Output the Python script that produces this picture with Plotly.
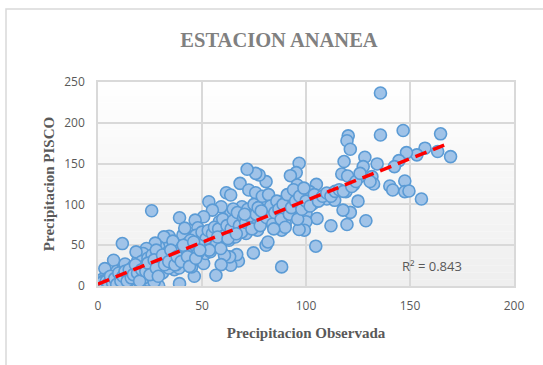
import numpy as np
import plotly.graph_objects as go

# Observed vs PISCO monthly precipitation (mm), Ananea station
obs = [
    135.8, 135.8, 146.7, 164.7, 120.3, 119.7, 121.3, 169.5, 157.2, 163.3,
    153.3, 148.3, 144.7, 142.5, 118.3, 128.3, 127.5, 134.2, 131.7, 132.5,
    130.8, 125.8, 117.2, 120.0, 140.3, 141.7, 147.5, 147.5, 149.5, 155.5,
    119.2, 122.8, 125.0, 121.3, 117.8, 119.7, 128.8, 112.0, 110.0, 113.8,
    105.0, 104.7, 88.3, 96.7, 95.3, 92.5, 95.8, 97.5, 101.7, 93.8,
    100.0, 100.8, 103.3, 105.3, 100.0, 99.2, 96.7, 95.5, 92.8, 90.0,
    89.2, 87.8, 88.3, 90.0, 85.8, 83.3, 80.8, 77.5, 75.8, 71.7,
    68.3, 72.5, 75.8, 80.0, 78.3, 80.8, 82.2, 80.8, 81.7, 74.7,
    76.7, 75.8, 77.5, 74.2, 69.2, 67.5, 70.0, 71.2, 67.5, 66.7,
    63.8, 63.3, 65.0, 63.8, 65.0, 61.7, 63.8, 59.2, 58.3, 59.2,
    60.8, 59.2, 56.7, 53.3, 55.0, 50.8, 46.7, 48.0, 45.8, 45.0,
    40.8, 39.2, 41.7, 50.8, 52.5, 54.2, 51.7, 46.3, 45.0, 45.5,
    39.2, 36.7, 38.3, 35.0, 32.5, 34.2, 31.7, 29.2, 29.2, 28.3,
    25.8, 27.5, 23.3, 21.7, 19.2, 18.3, 25.0, 24.2, 29.2, 20.0,
    15.8, 11.7, 10.0, 7.5, 3.3, 10.8, 13.8, 1.7, 0.0, 0.5,
    1.0, 1.5, 2.0, 2.0, 3.0, 4.0, 5.0, 5.0, 6.0, 7.0,
    8.0, 8.0, 9.0, 10.0, 11.0, 12.0, 12.0, 13.0, 14.0, 15.0,
    16.0, 17.0, 18.0, 19.0, 20.0, 21.0, 22.0, 22.0, 23.0, 24.0,
    25.0, 26.0, 27.0, 28.0, 26.0, 27.0, 30.0, 31.0, 32.0, 33.0,
    34.0, 35.0, 36.0, 36.0, 37.0, 38.0, 39.0, 40.0, 41.0, 42.0,
    43.0, 44.0, 45.0, 46.0, 47.0, 48.0, 49.0, 50.0, 51.0, 52.0,
    53.0, 54.0, 55.0, 56.0, 57.0, 58.0, 59.0, 60.0, 61.0, 62.0,
    63.0, 64.0, 65.0, 66.0, 67.0, 68.0, 69.0, 70.0, 71.0, 72.0,
    73.0, 74.0, 75.0, 76.0, 77.0, 78.0, 79.0, 80.0, 81.0, 82.0,
    83.0, 84.0, 85.0, 86.0, 87.0, 88.0, 89.0, 90.0, 91.0, 92.0,
    93.0, 94.0, 95.0, 96.0, 97.0, 98.0, 99.0, 100.0, 102.0, 104.0,
    106.0, 108.0, 110.0, 112.0, 114.0, 116.0, 118.0, 122.0, 124.0, 126.0,
    2.5, 4.5, 6.5, 9.5, 12.5, 14.5, 17.5, 30.5, 33.5, 37.5,
    42.5, 44.5, 48.5, 53.5, 57.5, 62.5, 66.5, 70.5, 78.5, 84.5,
    1.0, 2.0, 3.0, 4.0, 5.0, 6.0, 7.0, 8.0, 9.0, 10.0,
    11.0, 12.0, 13.0, 14.0, 15.0, 16.0, 17.0, 18.0, 19.0, 20.0,
    21.0, 23.0, 24.0, 25.0, 27.0, 28.0, 29.0, 31.0, 32.0, 34.0,
    35.0, 37.0, 38.0, 40.0, 41.0, 43.0, 44.0, 46.0, 47.0, 49.0,
]
pisco = [
    236.5, 185.0, 190.6, 186.5, 184.0, 178.0, 167.6, 158.6, 168.9, 164.8,
    160.7, 163.5, 153.7, 146.3, 152.5, 157.8, 146.3, 149.6, 134.0, 125.0,
    128.0, 134.0, 137.3, 134.8, 122.5, 117.6, 128.7, 115.6, 116.4, 106.6,
    115.6, 123.8, 104.0, 90.2, 93.0, 75.4, 80.0, 73.8, 106.6, 105.0,
    124.6, 48.8, 23.4, 150.4, 139.0, 135.2, 123.8, 115.6, 115.6, 112.7,
    89.0, 98.4, 101.0, 82.8, 78.7, 68.4, 69.3, 86.9, 100.4, 105.3,
    96.3, 84.8, 68.4, 76.6, 78.7, 105.3, 127.9, 136.0, 138.0, 143.0,
    125.8, 117.6, 114.3, 109.4, 103.3, 88.9, 80.7, 50.0, 54.0, 40.6,
    68.4, 78.7, 84.8, 93.0, 97.1, 82.8, 72.5, 64.3, 30.7, 38.5,
    25.4, 35.7, 68.4, 88.9, 94.3, 114.3, 111.5, 97.1, 78.7, 59.4,
    37.7, 26.2, 13.1, 103.3, 93.0, 84.8, 80.7, 71.3, 60.2, 56.1,
    62.3, 83.6, 70.9, 27.5, 50.0, 54.0, 39.8, 11.9, 23.4, 38.5,
    2.9, 20.0, 31.6, 39.8, 48.0, 61.0, 60.2, 48.0, 35.7, 19.3,
    92.2, 52.5, 45.9, 39.8, 31.6, 41.8, 17.2, 7.0, 0.0, 15.2,
    21.3, 52.0, 23.4, 31.6, 21.3, 0.8, 0.8, 7.0, 0.8, 5.0,
    0.0, 3.0, 1.0, 8.0, 4.0, 0.0, 2.0, 10.0, 6.0, 1.0,
    12.0, 3.0, 18.0, 8.0, 14.0, 4.0, 20.0, 27.0, 10.0, 2.0,
    18.0, 24.0, 12.0, 8.0, 22.0, 30.0, 16.0, 10.0, 26.0, 34.0,
    22.0, 38.0, 28.0, 44.0, 12.0, 5.0, 24.0, 16.0, 34.0, 40.0,
    22.0, 28.0, 46.0, 55.0, 34.0, 42.0, 22.0, 46.0, 38.0, 30.0,
    52.0, 44.0, 30.0, 48.0, 62.0, 40.0, 55.0, 66.0, 46.0, 58.0,
    68.0, 42.0, 64.0, 72.0, 52.0, 70.0, 46.0, 82.0, 62.0, 74.0,
    56.0, 70.0, 80.0, 60.0, 90.0, 74.0, 66.0, 84.0, 78.0, 94.0,
    86.0, 70.0, 100.0, 88.0, 96.0, 74.0, 110.0, 92.0, 84.0, 112.0,
    98.0, 76.0, 90.0, 104.0, 94.0, 82.0, 100.0, 72.0, 112.0, 88.0,
    96.0, 118.0, 104.0, 82.0, 110.0, 94.0, 120.0, 104.0, 98.0, 112.0,
    104.0, 110.0, 114.0, 110.0, 116.0, 118.0, 116.0, 122.0, 128.0, 138.0,
    6.0, 2.0, 9.0, 4.0, 16.0, 6.0, 14.0, 30.0, 36.0, 26.0,
    40.0, 56.0, 50.0, 44.0, 60.0, 58.0, 64.0, 88.0, 92.0, 70.0,
    1.0, 4.0, 0.0, 6.0, 3.0, 12.0, 4.0, 9.0, 2.0, 16.0,
    6.0, 12.0, 18.0, 6.0, 20.0, 10.0, 14.0, 26.0, 16.0, 6.0,
    20.0, 18.0, 28.0, 14.0, 32.0, 22.0, 12.0, 38.0, 26.0, 30.0,
    44.0, 26.0, 36.0, 30.0, 50.0, 36.0, 24.0, 54.0, 34.0, 44.0,
]

x_ticks = [0, 50, 100, 150, 200]
y_ticks = [0, 50, 100, 150, 200, 250]
r2_label = "R² = 0.843"

# Linear trend fitted to the pairs
slope, intercept = np.polyfit(obs, pisco, 1)
trend_x = np.array([min(obs), max(obs)])
trend_y = slope * trend_x + intercept

GRID = "#d9d9d9"
TXT = "#595959"

# plot area in pixels
W, H = 543, 365
L, R, T, B = 98, 29, 82, 79
pw, ph = W - L - R, H - T - B

fig = go.Figure()
fig.add_trace(go.Scatter(
    x=obs, y=pisco, mode="markers",
    marker=dict(size=12, color="#a0c3e8", line=dict(color="#5b9bd5", width=1.6)),
    showlegend=False, hoverinfo="skip",
))
fig.add_trace(go.Scatter(
    x=trend_x, y=trend_y, mode="lines",
    line=dict(color="#ff0000", width=3.5, dash="12px,7px"),
    showlegend=False, hoverinfo="skip",
))

# soft vertical gradient behind the plot area
n_bands = 30
for i in range(n_bands):
    g = int(255 - 16 * (i + 0.5) / n_bands)
    fig.add_shape(type="rect", xref="paper", yref="paper",
                  x0=0, x1=1, y0=1 - (i + 1) / n_bands, y1=1 - i / n_bands,
                  fillcolor=f"rgb({g},{g},{g})", line_width=0, layer="below")

# chart frame (left and top edges)
fx = (6 - L) / pw
fy = (H - B - 9) / ph
fig.add_shape(type="path", xref="paper", yref="paper",
              path=f"M {fx},-0.5 L {fx},{fy} L 1.3,{fy}",
              line=dict(color=GRID, width=1.5), layer="below")

fig.add_annotation(x=160.5, y=24, xref="x", yref="y", text=r2_label, showarrow=False,
                   font=dict(family="Open Sans", size=13, color=TXT))

fig.update_layout(
    width=W, height=H,
    margin=dict(l=L, r=R, t=T, b=B),
    paper_bgcolor="white", plot_bgcolor="rgba(0,0,0,0)",
    title=dict(text="<b>ESTACION ANANEA</b>", x=279 / W, xanchor="center",
               y=1 - 40 / H, yanchor="middle", yref="container",
               font=dict(family="Liberation Serif", size=20.5, color="#808080")),
)
fig.update_xaxes(
    range=[0, 200], tickvals=x_ticks, showgrid=True, gridcolor=GRID, gridwidth=1.5,
    zeroline=False, showline=True, mirror=True, linecolor=GRID, linewidth=1.5,
    ticks="outside", ticklen=8, tickcolor="rgba(0,0,0,0)",
    tickfont=dict(family="Open Sans", size=12, color=TXT),
    title=dict(text="<b>Precipitacion Observada</b>", standoff=14,
               font=dict(family="Liberation Serif", size=15, color=TXT)),
)
fig.update_yaxes(
    range=[0, 250], tickvals=y_ticks, showgrid=True, gridcolor=GRID, gridwidth=1.5,
    zeroline=False, showline=True, mirror=True, linecolor=GRID, linewidth=1.5,
    ticks="outside", ticklen=9, tickcolor="rgba(0,0,0,0)",
    tickfont=dict(family="Open Sans", size=12, color=TXT),
    title=dict(text="<b>Precipitacion PISCO</b>", standoff=6,
               font=dict(family="Liberation Serif", size=15, color=TXT)),
)

fig.write_html("out.html")
